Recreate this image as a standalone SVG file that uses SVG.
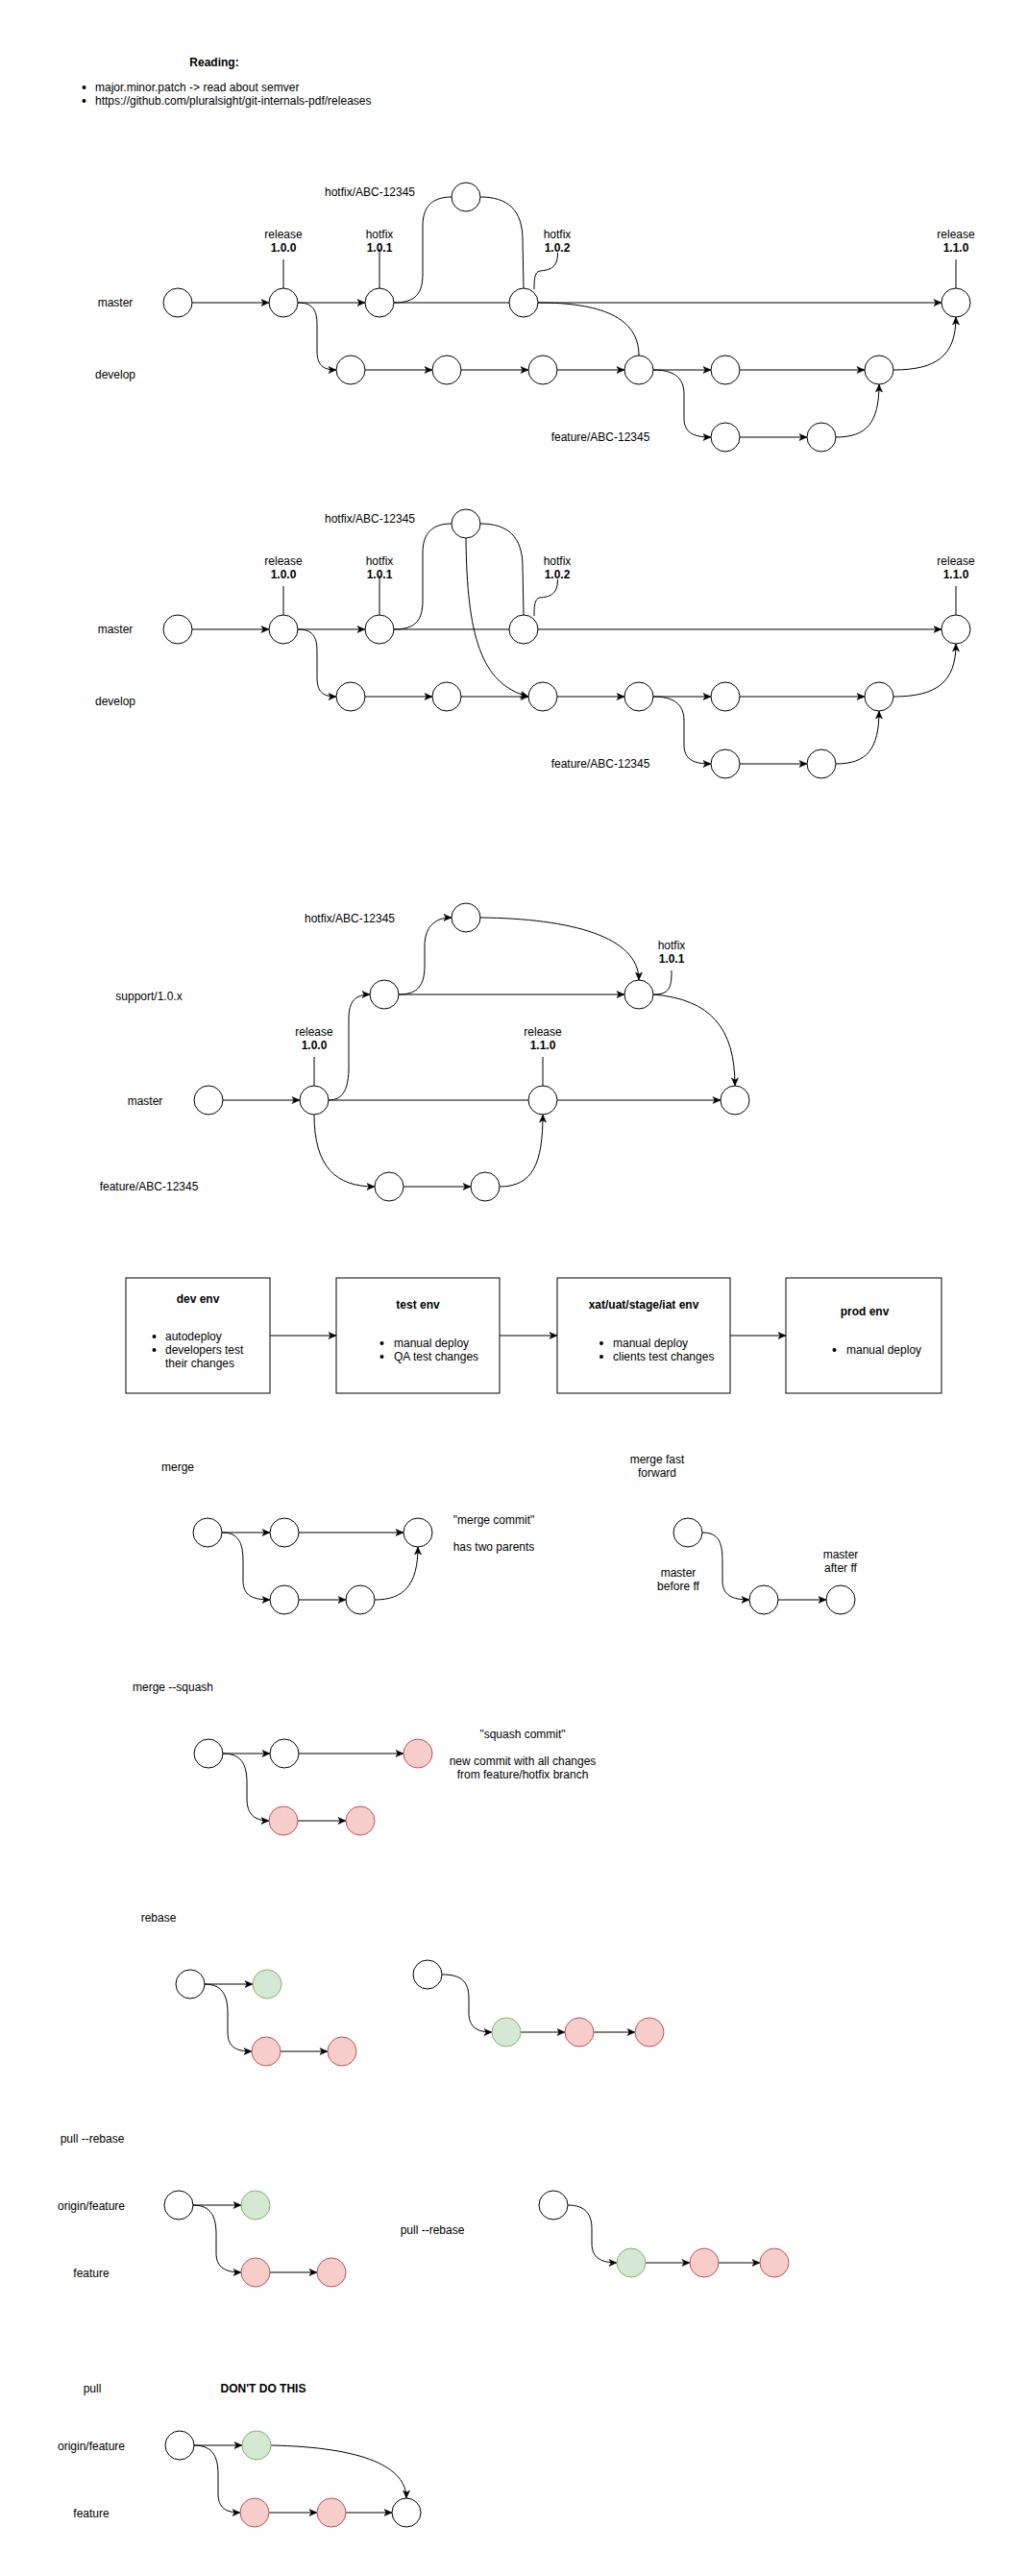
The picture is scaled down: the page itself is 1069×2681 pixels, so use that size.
<svg xmlns="http://www.w3.org/2000/svg" width="1069" height="2681" viewBox="0 0 1069 2681">
<defs>
<style>
.t{font-family:"Liberation Sans",Arial,Helvetica,sans-serif;font-size:12px;fill:#000;text-anchor:middle}
.b{font-weight:bold}
.s{text-anchor:start}
.n{fill:#fff;stroke:#000;stroke-width:1}
.r{fill:#f8cecc;stroke:#b85450;stroke-width:1}
.g{fill:#d5e8d4;stroke:#82b366;stroke-width:1}
.box{fill:#fff;stroke:#000;stroke-width:1}
.e{fill:none;stroke:#000;stroke-width:1}
.a{marker-end:url(#arr)}
.dot{fill:#000}
</style>
<marker id="arr" markerWidth="9" markerHeight="8" refX="8" refY="3.5" orient="auto" markerUnits="userSpaceOnUse" overflow="visible">
<path d="M0,0 L8,3.5 L0,7 L2,3.5 Z" fill="#000" stroke="#000" stroke-width="0.5"/>
</marker>
</defs>
<rect width="1069" height="2681" fill="#fff"/>

<g id="reading">
<text class="t b" x="223" y="69">Reading:</text>
<circle class="dot" cx="87.5" cy="91" r="2"/>
<circle class="dot" cx="87.5" cy="105" r="2"/>
<text class="t s" x="99" y="95">major.minor.patch -&gt; read about semver</text>
<text class="t s" x="99" y="109">https://github.com/pluralsight/git-internals-pdf/releases</text>
</g>

<g id="d1-connectors">
<path class="e a" d="M200,315 L280,315"/>
<path class="e a" d="M310,315 L380,315"/>
<path class="e" d="M410,315 L530,315"/>
<path class="e a" d="M560,315 L980,315"/>
<path class="e" d="M410,315 C433,315 440,305 440,285 L440,235 C440,215 450,205 470,205"/>
<path class="e" d="M500,205 C528,205 544,218 544,250 L545,300"/>
<path class="e" d="M560,315 C625,315 665,330 665,370"/>
<path class="e a" d="M310,315 C325,315 330,322 330,338 L330,365 C330,380 336,385 350,385"/>
<path class="e a" d="M380,385 L450,385"/>
<path class="e a" d="M480,385 L550,385"/>
<path class="e a" d="M580,385 L650,385"/>
<path class="e a" d="M680,385 L740,385"/>
<path class="e a" d="M770,385 L900,385"/>
<path class="e a" d="M680,385 C700,385 712,392 712,410 L712,435 C712,450 721,455 740,455"/>
<path class="e a" d="M770,455 L840,455"/>
<path class="e a" d="M870,455 C902,455 915,440 915,400"/>
<path class="e a" d="M930,385 C975,385 995,370 995,330"/>
<path class="e" d="M295,270 L295,300"/>
<path class="e" d="M395,259 L395,300"/>
<path class="e" d="M580.5,263 C580.5,280 571,281 562,282 C556,283 556,292 556,301"/>
<path class="e" d="M995,270 L995,300"/>
</g>
<g id="d1-labels">
<text class="t" x="120" y="319">master</text>
<text class="t" x="120" y="394">develop</text>
<text class="t" x="385" y="204">hotfix/ABC-12345</text>
<text class="t" x="295" y="248">release</text><text class="t b" x="295" y="262">1.0.0</text>
<text class="t" x="395" y="248">hotfix</text><text class="t b" x="395" y="262">1.0.1</text>
<text class="t" x="580" y="248">hotfix</text><text class="t b" x="580" y="262">1.0.2</text>
<text class="t" x="995" y="248">release</text><text class="t b" x="995" y="262">1.1.0</text>
<text class="t" x="625" y="459">feature/ABC-12345</text>
</g>
<g id="d1-m1"><circle class="n" cx="185" cy="315" r="15"/></g>
<g id="d1-m2"><circle class="n" cx="295" cy="315" r="15"/></g>
<g id="d1-m3"><circle class="n" cx="395" cy="315" r="15"/></g>
<g id="d1-m4"><circle class="n" cx="545" cy="315" r="15"/></g>
<g id="d1-m5"><circle class="n" cx="995" cy="315" r="15"/></g>
<g id="d1-h"><circle class="n" cx="485" cy="205" r="15"/></g>
<g id="d1-d1"><circle class="n" cx="365" cy="385" r="15"/></g>
<g id="d1-d2"><circle class="n" cx="465" cy="385" r="15"/></g>
<g id="d1-d3"><circle class="n" cx="565" cy="385" r="15"/></g>
<g id="d1-d4"><circle class="n" cx="665" cy="385" r="15"/></g>
<g id="d1-d5"><circle class="n" cx="755" cy="385" r="15"/></g>
<g id="d1-d6"><circle class="n" cx="915" cy="385" r="15"/></g>
<g id="d1-f1"><circle class="n" cx="755" cy="455" r="15"/></g>
<g id="d1-f2"><circle class="n" cx="855" cy="455" r="15"/></g>

<g id="d2-connectors">
<path class="e a" d="M200,655 L280,655"/>
<path class="e a" d="M310,655 L380,655"/>
<path class="e" d="M410,655 L530,655"/>
<path class="e a" d="M560,655 L980,655"/>
<path class="e" d="M410,655 C433,655 440,645 440,625 L440,575 C440,555 450,545 470,545"/>
<path class="e" d="M500,545 C528,545 544,558 544,590 L545,640"/>
<path class="e a" d="M485,560 C486,660 500,712 550,725"/>
<path class="e a" d="M310,655 C325,655 330,662 330,678 L330,705 C330,720 336,725 350,725"/>
<path class="e a" d="M380,725 L450,725"/>
<path class="e a" d="M480,725 L550,725"/>
<path class="e a" d="M580,725 L650,725"/>
<path class="e a" d="M680,725 L740,725"/>
<path class="e a" d="M770,725 L900,725"/>
<path class="e a" d="M680,725 C700,725 712,732 712,750 L712,775 C712,790 721,795 740,795"/>
<path class="e a" d="M770,795 L840,795"/>
<path class="e a" d="M870,795 C902,795 915,780 915,740"/>
<path class="e a" d="M930,725 C975,725 995,710 995,670"/>
<path class="e" d="M295,610 L295,640"/>
<path class="e" d="M395,599 L395,640"/>
<path class="e" d="M580.5,603 C580.5,620 571,621 562,622 C556,623 556,632 556,641"/>
<path class="e" d="M995,610 L995,640"/>
</g>
<g id="d2-labels">
<text class="t" x="120" y="659">master</text>
<text class="t" x="120" y="734">develop</text>
<text class="t" x="385" y="544">hotfix/ABC-12345</text>
<text class="t" x="295" y="588">release</text><text class="t b" x="295" y="602">1.0.0</text>
<text class="t" x="395" y="588">hotfix</text><text class="t b" x="395" y="602">1.0.1</text>
<text class="t" x="580" y="588">hotfix</text><text class="t b" x="580" y="602">1.0.2</text>
<text class="t" x="995" y="588">release</text><text class="t b" x="995" y="602">1.1.0</text>
<text class="t" x="625" y="799">feature/ABC-12345</text>
</g>
<g id="d2-m1"><circle class="n" cx="185" cy="655" r="15"/></g>
<g id="d2-m2"><circle class="n" cx="295" cy="655" r="15"/></g>
<g id="d2-m3"><circle class="n" cx="395" cy="655" r="15"/></g>
<g id="d2-m4"><circle class="n" cx="545" cy="655" r="15"/></g>
<g id="d2-m5"><circle class="n" cx="995" cy="655" r="15"/></g>
<g id="d2-h"><circle class="n" cx="485" cy="545" r="15"/></g>
<g id="d2-d1"><circle class="n" cx="365" cy="725" r="15"/></g>
<g id="d2-d2"><circle class="n" cx="465" cy="725" r="15"/></g>
<g id="d2-d3"><circle class="n" cx="565" cy="725" r="15"/></g>
<g id="d2-d4"><circle class="n" cx="665" cy="725" r="15"/></g>
<g id="d2-d5"><circle class="n" cx="755" cy="725" r="15"/></g>
<g id="d2-d6"><circle class="n" cx="915" cy="725" r="15"/></g>
<g id="d2-f1"><circle class="n" cx="755" cy="795" r="15"/></g>
<g id="d2-f2"><circle class="n" cx="855" cy="795" r="15"/></g>

<g id="d3-connectors">
<path class="e a" d="M232,1145 L312,1145"/>
<path class="e" d="M342,1145 L550,1145"/>
<path class="e a" d="M580,1145 L750,1145"/>
<path class="e a" d="M342,1145 C358,1145 363,1132 363,1110 L363,1060 C363,1042 370,1035 385,1035"/>
<path class="e a" d="M415,1035 C435,1035 442,1025 442,1005 L442,985 C442,965 452,955 470,955"/>
<path class="e a" d="M415,1035 L650,1035"/>
<path class="e a" d="M500,955 C595,956 665,975 665,1020"/>
<path class="e a" d="M680,1035 C740,1040 765,1070 765,1130"/>
<path class="e a" d="M327,1160 C327,1215 350,1235 390,1235"/>
<path class="e a" d="M420,1235 L490,1235"/>
<path class="e a" d="M520,1235 C555,1235 565,1210 565,1160"/>
<path class="e" d="M327,1100 L327,1130"/>
<path class="e" d="M565,1100 L565,1130"/>
<path class="e" d="M699,1010 C699,1028 697,1035 680,1035"/>
</g>
<g id="d3-labels">
<text class="t" x="364" y="960">hotfix/ABC-12345</text>
<text class="t" x="155" y="1041">support/1.0.x</text>
<text class="t" x="151" y="1150">master</text>
<text class="t" x="155" y="1239">feature/ABC-12345</text>
<text class="t" x="327" y="1078">release</text><text class="t b" x="327" y="1092">1.0.0</text>
<text class="t" x="565" y="1078">release</text><text class="t b" x="565" y="1092">1.1.0</text>
<text class="t" x="699" y="988">hotfix</text><text class="t b" x="699" y="1002">1.0.1</text>
</g>
<g id="d3-m1"><circle class="n" cx="217" cy="1145" r="15"/></g>
<g id="d3-m2"><circle class="n" cx="327" cy="1145" r="15"/></g>
<g id="d3-m3"><circle class="n" cx="565" cy="1145" r="15"/></g>
<g id="d3-m4"><circle class="n" cx="765" cy="1145" r="15"/></g>
<g id="d3-s1"><circle class="n" cx="400" cy="1035" r="15"/></g>
<g id="d3-s2"><circle class="n" cx="665" cy="1035" r="15"/></g>
<g id="d3-h"><circle class="n" cx="485" cy="955" r="15"/></g>
<g id="d3-f1"><circle class="n" cx="405" cy="1235" r="15"/></g>
<g id="d3-f2"><circle class="n" cx="505" cy="1235" r="15"/></g>

<g id="env-connectors">
<path class="e a" d="M281,1390 L350,1390"/>
<path class="e a" d="M520,1390 L580,1390"/>
<path class="e a" d="M760,1390 L818,1390"/>
</g>
<g id="env-dev">
<rect class="box" x="131" y="1330" width="150" height="120"/>
<text class="t b" x="206" y="1356">dev env</text>
<circle class="dot" cx="160.5" cy="1391" r="2"/>
<circle class="dot" cx="160.5" cy="1405" r="2"/>
<text class="t s" x="172" y="1395">autodeploy</text>
<text class="t s" x="172" y="1409">developers test</text>
<text class="t s" x="172" y="1423">their changes</text>
</g>
<g id="env-test">
<rect class="box" x="350" y="1330" width="170" height="120"/>
<text class="t b" x="435" y="1362">test env</text>
<circle class="dot" cx="397.5" cy="1398" r="2"/>
<circle class="dot" cx="397.5" cy="1412" r="2"/>
<text class="t s" x="410" y="1402">manual deploy</text>
<text class="t s" x="410" y="1416">QA test changes</text>
</g>
<g id="env-xat">
<rect class="box" x="580" y="1330" width="180" height="120"/>
<text class="t b" x="670" y="1362">xat/uat/stage/iat env</text>
<circle class="dot" cx="626" cy="1398" r="2"/>
<circle class="dot" cx="626" cy="1412" r="2"/>
<text class="t s" x="638" y="1402">manual deploy</text>
<text class="t s" x="638" y="1416">clients test changes</text>
</g>
<g id="env-prod">
<rect class="box" x="818" y="1330" width="162" height="120"/>
<text class="t b" x="900" y="1369">prod env</text>
<circle class="dot" cx="868.5" cy="1405" r="2"/>
<text class="t s" x="881" y="1409">manual deploy</text>
</g>

<g id="merge-connectors">
<path class="e a" d="M231,1595 L281,1595"/>
<path class="e a" d="M311,1595 L420,1595"/>
<path class="e a" d="M231,1595 C248,1595 253,1605 253,1625 L253,1645 C253,1660 262,1665 281,1665"/>
<path class="e a" d="M311,1665 L360,1665"/>
<path class="e a" d="M390,1665 C420,1665 435,1650 435,1610"/>
</g>
<g id="merge-labels">
<text class="t" x="185" y="1531">merge</text>
<text class="t" x="514" y="1586">"merge commit"</text>
<text class="t" x="514" y="1614">has two parents</text>
</g>
<g id="mg-1"><circle class="n" cx="216" cy="1595" r="15"/></g>
<g id="mg-2"><circle class="n" cx="296" cy="1595" r="15"/></g>
<g id="mg-3"><circle class="n" cx="435" cy="1595" r="15"/></g>
<g id="mg-4"><circle class="n" cx="296" cy="1665" r="15"/></g>
<g id="mg-5"><circle class="n" cx="375" cy="1665" r="15"/></g>

<g id="ff-connectors">
<path class="e a" d="M731,1595 C748,1595 752,1605 752,1625 L752,1645 C752,1660 762,1665 780,1665"/>
<path class="e a" d="M810,1665 L860,1665"/>
</g>
<g id="ff-labels">
<text class="t" x="684" y="1523">merge fast</text>
<text class="t" x="684" y="1537">forward</text>
<text class="t" x="706" y="1641">master</text>
<text class="t" x="706" y="1655">before ff</text>
<text class="t" x="875" y="1622">master</text>
<text class="t" x="875" y="1636">after ff</text>
</g>
<g id="ff-1"><circle class="n" cx="716" cy="1595" r="15"/></g>
<g id="ff-2"><circle class="n" cx="795" cy="1665" r="15"/></g>
<g id="ff-3"><circle class="n" cx="875" cy="1665" r="15"/></g>

<g id="sq-connectors">
<path class="e a" d="M232,1825 L281,1825"/>
<path class="e a" d="M311,1825 L420,1825"/>
<path class="e a" d="M232,1825 C250,1825 257,1835 257,1855 L257,1872 C257,1888 265,1895 280,1895"/>
<path class="e a" d="M310,1895 L360,1895"/>
</g>
<g id="sq-labels">
<text class="t" x="180" y="1760">merge --squash</text>
<text class="t" x="544" y="1809">"squash commit"</text>
<text class="t" x="544" y="1837">new commit with all changes</text>
<text class="t" x="544" y="1851">from feature/hotfix branch</text>
</g>
<g id="sq-1"><circle class="n" cx="217" cy="1825" r="15"/></g>
<g id="sq-2"><circle class="n" cx="296" cy="1825" r="15"/></g>
<g id="sq-3"><circle class="r" cx="435" cy="1825" r="15"/></g>
<g id="sq-4"><circle class="r" cx="295" cy="1895" r="15"/></g>
<g id="sq-5"><circle class="r" cx="375" cy="1895" r="15"/></g>

<g id="rb-connectors">
<path class="e a" d="M213,2065 L263,2065"/>
<path class="e a" d="M213,2065 C230,2065 237,2075 237,2095 L237,2115 C237,2130 245,2135 262,2135"/>
<path class="e a" d="M292,2135 L341,2135"/>
<path class="e a" d="M460,2055 C480,2055 488,2062 488,2080 L488,2095 C488,2110 497,2115 512,2115"/>
<path class="e a" d="M542,2115 L588,2115"/>
<path class="e a" d="M618,2115 L661,2115"/>
</g>
<g id="rb-labels">
<text class="t" x="165" y="2000">rebase</text>
</g>
<g id="rb-1"><circle class="n" cx="198" cy="2065" r="15"/></g>
<g id="rb-2"><circle class="g" cx="278" cy="2065" r="15"/></g>
<g id="rb-3"><circle class="r" cx="277" cy="2135" r="15"/></g>
<g id="rb-4"><circle class="r" cx="356" cy="2135" r="15"/></g>
<g id="rb-5"><circle class="n" cx="445" cy="2055" r="15"/></g>
<g id="rb-6"><circle class="g" cx="527" cy="2115" r="15"/></g>
<g id="rb-7"><circle class="r" cx="603" cy="2115" r="15"/></g>
<g id="rb-8"><circle class="r" cx="676" cy="2115" r="15"/></g>

<g id="pr-connectors">
<path class="e a" d="M201,2295 L251,2295"/>
<path class="e a" d="M201,2295 C218,2295 225,2305 225,2325 L225,2345 C225,2360 235,2365 251,2365"/>
<path class="e a" d="M281,2365 L330,2365"/>
<path class="e a" d="M591,2295 C610,2295 616,2305 616,2320 L616,2335 C616,2350 626,2355 642,2355"/>
<path class="e a" d="M672,2355 L718,2355"/>
<path class="e a" d="M748,2355 L791,2355"/>
</g>
<g id="pr-labels">
<text class="t" x="96" y="2230">pull --rebase</text>
<text class="t" x="95" y="2300">origin/feature</text>
<text class="t" x="95" y="2370">feature</text>
<text class="t" x="450" y="2325">pull --rebase</text>
</g>
<g id="pr-1"><circle class="n" cx="186" cy="2295" r="15"/></g>
<g id="pr-2"><circle class="g" cx="266" cy="2295" r="15"/></g>
<g id="pr-3"><circle class="r" cx="266" cy="2365" r="15"/></g>
<g id="pr-4"><circle class="r" cx="345" cy="2365" r="15"/></g>
<g id="pr-5"><circle class="n" cx="576" cy="2295" r="15"/></g>
<g id="pr-6"><circle class="g" cx="657" cy="2355" r="15"/></g>
<g id="pr-7"><circle class="r" cx="733" cy="2355" r="15"/></g>
<g id="pr-8"><circle class="r" cx="806" cy="2355" r="15"/></g>

<g id="pl-connectors">
<path class="e a" d="M202,2545 L252,2545"/>
<path class="e a" d="M202,2545 C220,2545 227,2555 227,2575 L227,2595 C227,2610 235,2615 250,2615"/>
<path class="e a" d="M280,2615 L330,2615"/>
<path class="e a" d="M360,2615 L408,2615"/>
<path class="e a" d="M282,2545 C380,2547 423,2568 423,2600"/>
</g>
<g id="pl-labels">
<text class="t" x="96" y="2490">pull</text>
<text class="t b" x="274" y="2490">DON'T DO THIS</text>
<text class="t" x="95" y="2550">origin/feature</text>
<text class="t" x="95" y="2620">feature</text>
</g>
<g id="pl-1"><circle class="n" cx="187" cy="2545" r="15"/></g>
<g id="pl-2"><circle class="g" cx="267" cy="2545" r="15"/></g>
<g id="pl-3"><circle class="r" cx="265" cy="2615" r="15"/></g>
<g id="pl-4"><circle class="r" cx="345" cy="2615" r="15"/></g>
<g id="pl-5"><circle class="n" cx="423" cy="2615" r="15"/></g>
</svg>
